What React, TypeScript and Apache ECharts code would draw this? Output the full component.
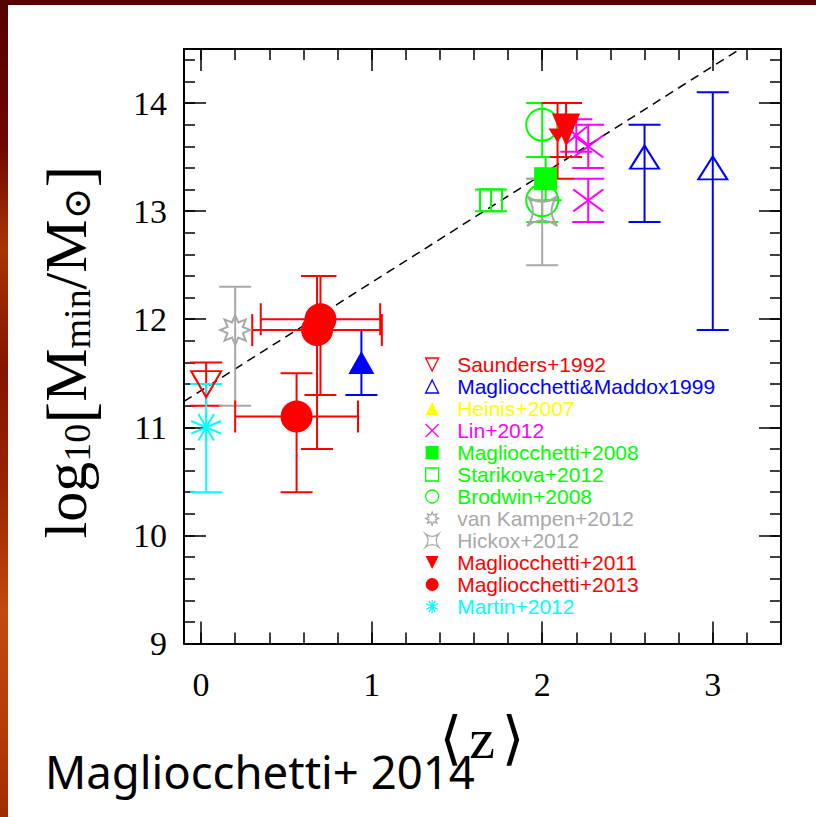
import React, { useEffect, useRef } from "react";
import * as echarts from "echarts";

// Each row: [<z>, log10 Mmin, error below, error above, (z error below, z error above)]
const saunders1992 = [[0.03, 11.4, 0.2, 0.2]];
const magliocchettiMaddox1999 = [
  [2.6, 13.5, 0.6, 0.3],
  [3.0, 13.4, 1.5, 0.7],
];
const magliocchettiMaddox1999Low = [[0.94, 11.6, 0.3, 0.3]];
const heinis2007: number[][] = [];
const lin2012 = [
  [2.2, 13.7, 0.15, 0.15],
  [2.27, 13.6, 0.2, 0.2],
  [2.27, 13.1, 0.2, 0.2],
];
const magliocchetti2008 = [[2.02, 13.3, 0.2, 0.2]];
const starikova2012 = [[1.7, 13.1, 0.1, 0.1]];
const brodwin2008 = [
  [2.0, 13.8, 0.3, 0.2],
  [2.0, 13.1, 0.2, 0.2],
];
const vanKampen2012 = [[0.2, 11.9, 0.7, 0.4]];
const hickox2012 = [[2.0, 13.0, 0.5, 0.3]];
const magliocchetti2011 = [
  [2.14, 13.75, 0.25, 0.25],
  [2.09, 13.7, 0.4, 0.3],
];
const magliocchetti2013 = [
  [0.56, 11.1, 0.7, 0.4, 0.36, 0.36],
  [0.7, 12.0, 0.7, 0.4, 0.35, 0.35],
  [0.68, 11.9, 1.1, 0.5, 0.38, 0.38],
];
const martin2012 = [[0.03, 11.0, 0.6, 0.4]];

// dashed relation
const relationZ = [-0.1, 3.16];
const relationLogM = [11.24, 14.5];

// axis ticks
const xMajorTicks = [0, 1, 2, 3];
const yMajorTicks = [9, 10, 11, 12, 13, 14];
const xMinorTicks = Array.from({ length: 18 }, (_, i) => +(i * 0.2).toFixed(1));
const yMinorTicks = Array.from({ length: 28 }, (_, i) => +(9 + i * 0.2).toFixed(1));

const RED = "#ff0000";
const BLUE = "#0000ff";
const YELLOW = "#ffff00";
const MAGENTA = "#ff00ff";
const GREEN = "#00ff00";
const GRAY = "#a8a8a8";
const CYAN = "#00ffff";

const SERIF = "'Liberation Serif', 'DejaVu Serif', serif";
const SANS = "'Liberation Sans', Arial, sans-serif";

function starPath(points: number, inner: number) {
  let d = "";
  for (let i = 0; i < points * 2; i++) {
    const r = i % 2 ? inner : 1;
    const a = -Math.PI / 2 + (i * Math.PI) / points;
    d += (i ? "L" : "M") + (r * Math.cos(a)).toFixed(3) + "," + (r * Math.sin(a)).toFixed(3);
  }
  return "path://" + d + "Z";
}

function spokesPath(angles: number[]) {
  return (
    "path://" +
    angles
      .map((deg) => {
        const c = Math.cos((deg * Math.PI) / 180).toFixed(3);
        const s = Math.sin((deg * Math.PI) / 180).toFixed(3);
        return `M${-c},${-s}L${c},${s}`;
      })
      .join("")
  );
}

const TRI_DOWN = "path://M-1,-1L1,-1L0,1Z";
const TRI_UP = "path://M0,-1L1,1L-1,1Z";
const SQUARE = "path://M-1,-1L1,-1L1,1L-1,1Z";
const CIRCLE = "path://M-1,0A1,1,0,1,1,1,0A1,1,0,1,1,-1,0Z";
const CROSS = "path://M-1,-1L1,1M1,-1L-1,1";
const STAR8 = starPath(8, 0.55);
const ASTROID = "path://M-1,-1Q0,-0.25 1,-1Q0.25,0 1,1Q0,0.25 -1,1Q-0.25,0 -1,-1Z";
const ASTERISK = spokesPath([90, 25, 155, 62, 118]);

type SetStyle = {
  name: string;
  data: number[][];
  color: string;
  symbol: string;
  size: any;
  filled: boolean;
  legend?: boolean;
};

const sets: SetStyle[] = [
  { name: "Saunders+1992", data: saunders1992, color: RED, symbol: TRI_DOWN, size: [30, 26], filled: false, legend: true },
  { name: "Magliocchetti&Maddox1999", data: magliocchettiMaddox1999, color: BLUE, symbol: TRI_UP, size: [29, 23], filled: false, legend: true },
  { name: "Magliocchetti&Maddox1999", data: magliocchettiMaddox1999Low, color: BLUE, symbol: TRI_UP, size: [26, 23], filled: true },
  { name: "Heinis+2007", data: heinis2007, color: YELLOW, symbol: TRI_UP, size: [26, 23], filled: true, legend: true },
  {
    name: "Lin+2012", data: lin2012, color: MAGENTA, symbol: CROSS,
    size: (_v: any, p: any) => (p.dataIndex === 0 ? [22, 18] : [30, 22]),
    filled: false, legend: true,
  },
  { name: "Magliocchetti+2008", data: magliocchetti2008, color: GREEN, symbol: SQUARE, size: 23, filled: true, legend: true },
  { name: "Starikova+2012", data: starikova2012, color: GREEN, symbol: SQUARE, size: 22, filled: false, legend: true },
  { name: "Brodwin+2008", data: brodwin2008, color: GREEN, symbol: CIRCLE, size: 32, filled: false, legend: true },
  { name: "van Kampen+2012", data: vanKampen2012, color: GRAY, symbol: STAR8, size: 30, filled: false, legend: true },
  { name: "Hickox+2012", data: hickox2012, color: GRAY, symbol: ASTROID, size: 30, filled: false, legend: true },
  {
    name: "Magliocchetti+2011", data: magliocchetti2011, color: RED, symbol: TRI_DOWN,
    size: (_v: any, p: any) => (p.dataIndex === 0 ? [28, 33] : [18, 14]),
    filled: true, legend: true,
  },
  { name: "Magliocchetti+2013", data: magliocchetti2013, color: RED, symbol: CIRCLE, size: 32, filled: true, legend: true },
  { name: "Martin+2012", data: martin2012, color: CYAN, symbol: ASTERISK, size: 30, filled: false, legend: true },
];

const CAP = 16;

function errorBars(color: string) {
  return (_params: any, api: any) => {
    const z = api.value(0);
    const m = api.value(1);
    const lo = api.value(2);
    const hi = api.value(3);
    const zl = api.value(4);
    const zh = api.value(5);
    const [cx, cy] = api.coord([z, m]);
    const yTop = api.coord([z, m + hi])[1];
    const yBot = api.coord([z, m - lo])[1];
    const style = { stroke: color, lineWidth: 2, fill: null };
    const children: any[] = [
      { type: "line", shape: { x1: cx, y1: yTop, x2: cx, y2: yBot }, style },
      { type: "line", shape: { x1: cx - CAP, y1: yTop, x2: cx + CAP, y2: yTop }, style },
      { type: "line", shape: { x1: cx - CAP, y1: yBot, x2: cx + CAP, y2: yBot }, style },
    ];
    if (Number.isFinite(zl) && Number.isFinite(zh)) {
      const xL = api.coord([z - zl, m])[0];
      const xR = api.coord([z + zh, m])[0];
      children.push(
        { type: "line", shape: { x1: xL, y1: cy, x2: xR, y2: cy }, style },
        { type: "line", shape: { x1: xL, y1: cy - CAP, x2: xL, y2: cy + CAP }, style },
        { type: "line", shape: { x1: xR, y1: cy - CAP, x2: xR, y2: cy + CAP }, style }
      );
    }
    return { type: "group", children };
  };
}

function valueAxis(
  dim: "x" | "y",
  position: string,
  major: boolean,
  labels: boolean
): any {
  const isX = dim === "x";
  return {
    type: "value",
    position,
    min: isX ? -0.1 : 9,
    max: isX ? 3.4 : 14.5,
    splitLine: { show: false },
    axisLine: { show: major, onZero: false, lineStyle: { color: "#000", width: 2 } },
    axisTick: {
      show: true,
      inside: true,
      length: major ? 22 : 11,
      customValues: major ? (isX ? xMajorTicks : yMajorTicks) : isX ? xMinorTicks : yMinorTicks,
      lineStyle: { color: "#000", width: 1.5 },
    },
    axisLabel: labels
      ? {
          show: true,
          customValues: isX ? xMajorTicks : yMajorTicks,
          margin: isX ? 24 : 17,
          fontSize: 34,
          fontFamily: SERIF,
          color: "#000",
        }
      : { show: false },
  };
}

export default function App() {
  const ref = useRef<HTMLDivElement>(null);

  useEffect(() => {
    if (!ref.current) return;
    const chart = echarts.init(ref.current, undefined, { renderer: "svg" });

    const series: any[] = [
      {
        type: "line",
        data: relationZ.map((z, i) => [z, relationLogM[i]]),
        symbol: "none",
        silent: true,
        z: 1,
        lineStyle: { color: "#000", width: 1.5, type: [9, 6] },
      },
    ];
    sets.forEach((s) => {
      series.push({
        type: "custom",
        silent: true,
        z: 2,
        data: s.data,
        encode: { x: 0, y: 1 },
        renderItem: errorBars(s.color),
      });
    });
    sets.forEach((s) => {
      series.push({
        type: "scatter",
        name: s.name,
        silent: true,
        z: 3,
        data: s.data.map((r) => [r[0], r[1]]),
        symbol: s.symbol,
        symbolSize: s.size,
        itemStyle: {
          color: s.filled ? s.color : "rgba(0,0,0,0)",
          borderColor: s.color,
          borderWidth: s.filled ? 0 : 2,
          opacity: 1,
        },
      });
    });

    const legendData = sets
      .filter((s) => s.legend)
      .map((s) => ({
        name: s.name,
        icon: s.symbol,
        textStyle: { color: s.color },
        itemStyle: {
          color: s.filled ? s.color : "rgba(0,0,0,0)",
          borderColor: s.color,
          borderWidth: s.filled ? 0 : 1.3,
        },
      }));

    chart.setOption({
      animation: false,
      backgroundColor: "#ffffff",
      grid: { left: 184, right: 35, top: 49, bottom: 173.5, containLabel: false },
      xAxis: [
        valueAxis("x", "bottom", true, true),
        valueAxis("x", "bottom", false, false),
        valueAxis("x", "top", true, false),
        valueAxis("x", "top", false, false),
      ],
      yAxis: [
        valueAxis("y", "left", true, true),
        valueAxis("y", "left", false, false),
        valueAxis("y", "right", true, false),
        valueAxis("y", "right", false, false),
      ],
      legend: {
        show: true,
        orient: "vertical",
        left: 425,
        top: 354,
        padding: 0,
        itemWidth: 40,
        itemHeight: 13,
        itemGap: 1,
        selectedMode: false,
        symbolKeepAspect: true,
        textStyle: { fontFamily: SANS, fontSize: 21, lineHeight: 13 },
        data: legendData,
      },
      graphic: [
        {
          type: "rect",
          silent: true,
          shape: { x: 0, y: 0, width: 816, height: 5 },
          style: { fill: "#560000" },
        },
        {
          type: "rect",
          silent: true,
          shape: { x: 0, y: 0, width: 8, height: 817 },
          style: {
            fill: new echarts.graphic.LinearGradient(0, 0, 0, 1, [
              { offset: 0, color: "#560000" },
              { offset: 0.18, color: "#6e0800" },
              { offset: 0.3, color: "#a83406" },
              { offset: 0.45, color: "#841600" },
              { offset: 0.6, color: "#9a2400" },
              { offset: 0.75, color: "#c04a10" },
              { offset: 0.9, color: "#b43a08" },
              { offset: 1, color: "#a02c00" },
            ]),
          },
        },
        {
          type: "text",
          silent: true,
          x: 66,
          y: 352,
          rotation: Math.PI / 2,
          style: {
            text: "{m|log}{s|10}{b|[}{m|M}{s|min}{m|/M}{s|⊙}{b|]}",
            align: "center",
            verticalAlign: "middle",
            fill: "#000",
            rich: {
              m: { fontSize: 60, fontFamily: SERIF, lineHeight: 60, verticalAlign: "top", padding: [0, 0, 18, 0], fill: "#000" },
              b: { fontSize: 66, fontFamily: SERIF, lineHeight: 60, verticalAlign: "top", padding: [0, 0, 18, 0], fill: "#000" },
              s: { fontSize: 38, fontFamily: SERIF, lineHeight: 38, verticalAlign: "bottom", fill: "#000" },
            },
          },
        },
        {
          type: "text",
          silent: true,
          x: 482,
          y: 738,
          style: {
            text: "{a|⟨}{z|z}{a|⟩}",
            align: "center",
            verticalAlign: "middle",
            fill: "#000",
            rich: {
              a: { fontSize: 58, fontFamily: SERIF, fill: "#000", padding: [0, 7, 0, 7] },
              z: { fontSize: 58, fontFamily: SERIF, fill: "#000" },
            },
          },
        },
        {
          type: "text",
          silent: true,
          x: 45,
          y: 771,
          style: {
            text: "Magliocchetti+ 2014",
            align: "left",
            verticalAlign: "middle",
            fontSize: 45.5,
            fontFamily: "'Noto Sans', sans-serif",
            fill: "#000",
          },
        },
      ],
      series,
    });

    return () => chart.dispose();
  }, []);

  return (
    <div
      ref={ref}
      style={{ position: "fixed", left: 0, top: 0, width: 816, height: 817 }}
    />
  );
}
